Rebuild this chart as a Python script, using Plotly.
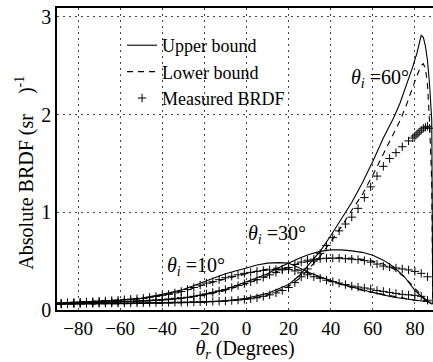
import plotly.graph_objects as go

# ---- bound curves (angles in degrees) ----
ang_b = [-90, -80, -70, -60, -50, -40, -30, -20, -10, 0, 5, 10, 15, 20, 25, 30, 35, 40,
         45, 50, 55, 60, 65, 70, 75, 80, 85, 88]
up10 = [0.07, 0.08, 0.09, 0.10, 0.12, 0.16, 0.21, 0.29, 0.37, 0.43, 0.46, 0.48, 0.485, 0.48,
        0.43, 0.38, 0.34, 0.30, 0.265, 0.235, 0.205, 0.18, 0.155, 0.13, 0.115, 0.10, 0.09, 0.08]
lo10 = [0.07, 0.08, 0.09, 0.10, 0.115, 0.15, 0.19, 0.26, 0.32, 0.37, 0.40, 0.42, 0.43, 0.43,
        0.41, 0.37, 0.33, 0.29, 0.26, 0.23, 0.20, 0.18, 0.16, 0.14, 0.12, 0.10, 0.09, 0.08]
up30 = [0.065, 0.07, 0.075, 0.08, 0.09, 0.10, 0.12, 0.16, 0.21, 0.29, 0.33, 0.37, 0.43, 0.48,
        0.53, 0.57, 0.60, 0.615, 0.615, 0.605, 0.59, 0.56, 0.51, 0.44, 0.34, 0.20, 0.10, 0.06]
lo30 = [0.065, 0.07, 0.075, 0.08, 0.09, 0.10, 0.12, 0.15, 0.20, 0.27, 0.31, 0.35, 0.40, 0.44,
        0.48, 0.50, 0.52, 0.53, 0.535, 0.53, 0.52, 0.50, 0.47, 0.42, 0.34, 0.22, 0.11, 0.06]

ang_b60 = [-90, -80, -60, -40, -20, -10, 0, 10, 20, 25, 30, 35, 40, 45, 50, 55, 60, 65, 70,
           73, 76, 79, 81, 82, 83, 84, 85, 86, 87, 88, 88.3, 88.5]
up60 = [0.06, 0.06, 0.065, 0.07, 0.08, 0.095, 0.12, 0.17, 0.26, 0.35, 0.47, 0.60, 0.76, 0.93,
        1.10, 1.30, 1.52, 1.76, 1.97, 2.12, 2.30, 2.49, 2.63, 2.73, 2.81, 2.79, 2.70, 2.55,
        2.30, 1.94, 1.00, 0.06]
lo60 = [0.06, 0.06, 0.065, 0.07, 0.08, 0.09, 0.11, 0.15, 0.24, 0.32, 0.43, 0.55, 0.70, 0.85,
        1.02, 1.18, 1.38, 1.60, 1.82, 1.94, 2.10, 2.29, 2.40, 2.45, 2.50, 2.52, 2.47, 2.30,
        1.90, 1.30, 0.60, 0.06]

# ---- measured BRDF ----
ang_m = [-88, -85, -82, -79, -76, -73, -70, -67, -64, -61, -58, -55, -52, -49, -46, -43, -40,
         -37, -34, -31, -28, -25, -22, -19, -16, -13, -10, -7, -4, -1, 2, 5, 8, 11, 14, 17, 20,
         23, 26, 29, 32, 35, 38, 41, 44, 47, 50, 53, 56, 59, 62, 65, 68, 71, 74, 77, 80, 83, 86]
m10 = [0.07, 0.075, 0.078, 0.08, 0.083, 0.086, 0.09, 0.093, 0.097, 0.10, 0.105, 0.11, 0.115,
       0.12, 0.13, 0.14, 0.15, 0.16, 0.175, 0.19, 0.21, 0.23, 0.255, 0.275, 0.29, 0.31, 0.33,
       0.345, 0.36, 0.375, 0.385, 0.395, 0.405, 0.41, 0.415, 0.42, 0.415, 0.40, 0.38, 0.36,
       0.34, 0.325, 0.305, 0.29, 0.275, 0.26, 0.245, 0.235, 0.225, 0.215, 0.20, 0.19, 0.18,
       0.17, 0.16, 0.155, 0.15, 0.14, 0.10]
m30 = [0.065, 0.068, 0.07, 0.072, 0.074, 0.076, 0.078, 0.08, 0.082, 0.084, 0.087, 0.09, 0.093,
       0.096, 0.10, 0.104, 0.108, 0.113, 0.12, 0.125, 0.13, 0.14, 0.15, 0.165, 0.18, 0.195,
       0.21, 0.23, 0.25, 0.27, 0.29, 0.31, 0.335, 0.36, 0.385, 0.41, 0.435, 0.465, 0.49, 0.51,
       0.52, 0.525, 0.53, 0.53, 0.53, 0.525, 0.52, 0.515, 0.505, 0.49, 0.47, 0.45, 0.44, 0.43,
       0.42, 0.41, 0.395, 0.375, 0.34]
ang_m60 = [-88, -85, -82, -79, -76, -73, -70, -67, -64, -61, -58, -55, -52, -49, -46, -43, -40,
           -37, -34, -31, -28, -25, -22, -19, -16, -13, -10, -7, -4, -1, 2, 5, 8, 11, 14, 17,
           20, 23, 26, 29, 32, 35, 38, 41, 44, 47, 50, 53, 56, 59, 62, 65, 68, 71, 74, 77, 79,
           80, 81, 82, 83, 84, 85, 86, 87]
m60 = [0.06, 0.062, 0.064, 0.065, 0.066, 0.067, 0.068, 0.069, 0.07, 0.07, 0.071, 0.072, 0.073,
       0.074, 0.075, 0.076, 0.077, 0.078, 0.079, 0.08, 0.081, 0.082, 0.084, 0.086, 0.088,
       0.09, 0.093, 0.097, 0.102, 0.108, 0.115, 0.125, 0.14, 0.155, 0.175, 0.20, 0.23, 0.28,
       0.34, 0.42, 0.50, 0.58, 0.66, 0.74, 0.81, 0.88, 0.95, 1.04, 1.15, 1.26, 1.37, 1.47,
       1.55, 1.61, 1.67, 1.73, 1.76, 1.78, 1.80, 1.82, 1.84, 1.86, 1.87, 1.88, 1.86]

x_ticks = [-80, -60, -40, -20, 0, 20, 40, 60, 80]
y_ticks = [0, 1, 2, 3]

FONT = "Liberation Serif, Times New Roman, serif"
fig = go.Figure()

line_sets = [(ang_b, up10, lo10), (ang_b, up30, lo30), (ang_b60, up60, lo60)]
for k, (a, u, l) in enumerate(line_sets):
    fig.add_trace(go.Scatter(x=a, y=u, mode="lines", line=dict(color="black", width=1.1),
                             name="Upper bound", showlegend=(k == 0)))
    fig.add_trace(go.Scatter(x=a, y=l, mode="lines",
                             line=dict(color="black", width=1.1, dash="6px,5px"),
                             name="Lower bound", showlegend=(k == 0)))

for k, (a, m) in enumerate([(ang_m, m10), (ang_m, m30), (ang_m60, m60)]):
    fig.add_trace(go.Scatter(x=a, y=m, mode="markers",
                             marker=dict(symbol="cross-thin", size=6, color="black",
                                         line=dict(color="black", width=1)),
                             name="Measured BRDF", showlegend=(k == 0)))

labels = [(-24, 0.45, "10"), (14.5, 0.77, "30"), (63.5, 2.37, "60")]
for x, y, t in labels:
    fig.add_annotation(x=x, y=y, text="<i>θ</i><sub><i>i</i></sub> =" + t + "°",
                       showarrow=False, font=dict(size=20, color="black", family=FONT))

fig.add_annotation(xref="paper", yref="paper", x=-0.085, y=0.455, xanchor="center",
                   yanchor="middle", textangle=-90,
                   text="Absolute BRDF (sr    )<sup>-1</sup>", showarrow=False,
                   font=dict(size=20, color="black", family=FONT))

fig.update_layout(
    width=433, height=362,
    margin=dict(l=57, r=0, t=8, b=52),
    paper_bgcolor="white", plot_bgcolor="white",
    font=dict(family=FONT, size=20, color="black"),
    legend=dict(x=0.173, y=0.937, xanchor="left", yanchor="top", bgcolor="rgba(0,0,0,0)",
                font=dict(size=18), tracegroupgap=0),
    xaxis=dict(range=[-90, 88.6], tickvals=x_ticks, showgrid=True, gridcolor="#444",
               griddash="2px,4px", gridwidth=1, zeroline=False, showline=True,
               linecolor="black", linewidth=1.5, mirror=True, ticks="",
               tickfont=dict(size=19),
               title=dict(text="<i>θ</i><sub><i>r</i></sub> (Degrees)", standoff=4,
                          font=dict(size=20))),
    yaxis=dict(range=[0, 3.09], tickvals=y_ticks, showgrid=True, gridcolor="#444",
               griddash="2px,4px", gridwidth=1, zeroline=False, showline=True,
               linecolor="black", linewidth=1.5, ticks="", tickfont=dict(size=20)),
)

fig.write_html("out.html")
